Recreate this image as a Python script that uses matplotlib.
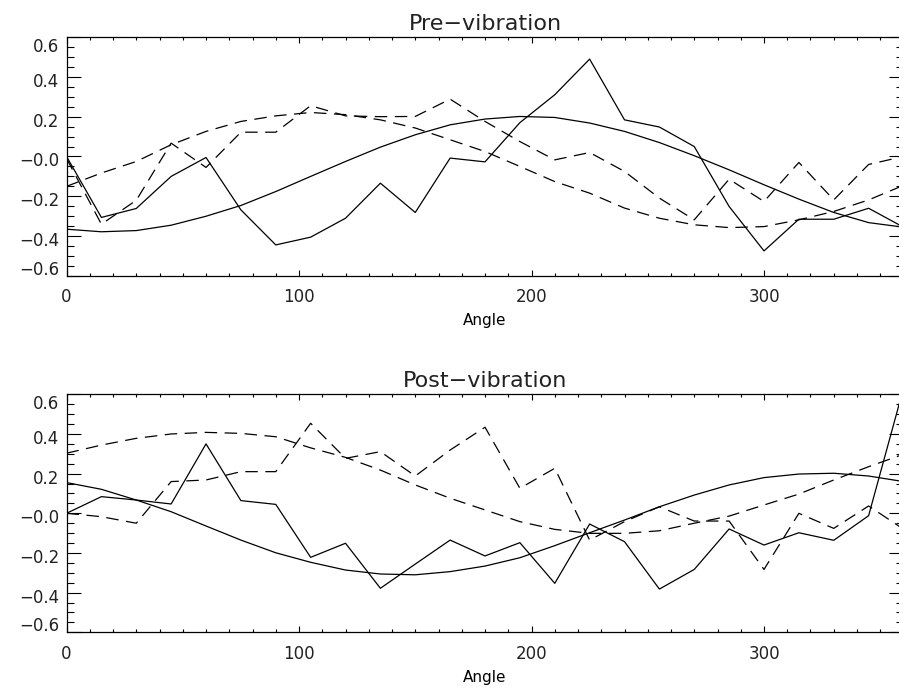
import matplotlib
matplotlib.use("Agg")
import matplotlib.pyplot as plt
from matplotlib.ticker import MultipleLocator
from matplotlib.transforms import ScaledTranslation

# angle steps (deg)
angle = [0, 15, 30, 45, 60, 75, 90, 105, 120, 135, 150, 165, 180,
         195, 210, 225, 240, 255, 270, 285, 300, 315, 330, 345, 360]

# Pre-vibration
pre_solid = [0.0, -0.306, -0.261, -0.10, -0.005, -0.268, -0.444, -0.405, -0.31,
             -0.134, -0.281, -0.008, -0.027, 0.17, 0.31, 0.489, 0.184, 0.148,
             0.05, -0.251, -0.474, -0.315, -0.315, -0.26, -0.355]
pre_solid_fit = [-0.365, -0.378, -0.372, -0.345, -0.30, -0.246, -0.176, -0.10,
                 -0.025, 0.047, 0.109, 0.159, 0.188, 0.201, 0.196, 0.168, 0.126,
                 0.07, 0.004, -0.067, -0.142, -0.214, -0.281, -0.332, -0.355]
pre_dash = [-0.01, -0.34, -0.22, 0.067, -0.055, 0.122, 0.122, 0.255, 0.204, 0.2,
            0.201, 0.288, 0.176, 0.075, -0.017, 0.02, -0.075, -0.209, -0.318,
            -0.114, -0.226, -0.03, -0.218, -0.04, 0.0]
pre_dash_fit = [-0.15, -0.083, -0.025, 0.059, 0.126, 0.176, 0.204, 0.221, 0.21,
                0.184, 0.143, 0.084, 0.025, -0.05, -0.126, -0.184, -0.259, -0.31,
                -0.343, -0.357, -0.352, -0.318, -0.276, -0.218, -0.145]

# Post-vibration
post_solid = [0.0, 0.084, 0.067, 0.047, 0.35, 0.064, 0.045, -0.222, -0.151, -0.378,
              -0.256, -0.135, -0.215, -0.148, -0.353, -0.054, -0.143, -0.382,
              -0.283, -0.079, -0.16, -0.098, -0.136, -0.012, 0.63]
post_solid_fit = [0.155, 0.121, 0.067, 0.008, -0.064, -0.135, -0.199, -0.247,
                  -0.286, -0.306, -0.31, -0.294, -0.266, -0.224, -0.163, -0.098,
                  -0.034, 0.033, 0.092, 0.143, 0.18, 0.198, 0.202, 0.188, 0.16]
post_dash = [0.0, -0.017, -0.05, 0.16, 0.168, 0.21, 0.21, 0.454, 0.277, 0.311,
             0.188, 0.319, 0.434, 0.126, 0.227, -0.135, -0.042, 0.033, -0.039,
             -0.039, -0.283, 0.0, -0.076, 0.037, -0.08]
post_dash_fit = [0.303, 0.344, 0.378, 0.4, 0.408, 0.403, 0.386, 0.33, 0.282, 0.218,
                 0.143, 0.076, 0.017, -0.042, -0.081, -0.101, -0.101, -0.088,
                 -0.05, -0.014, 0.042, 0.097, 0.168, 0.235, 0.298]

xticks = [0, 100, 200, 300]
xticklabels = ["0", "100", "200", "300"]
yticks = [-0.6, -0.4, -0.2, 0.0, 0.2, 0.4, 0.6]
yticklabels = ["\u22120.6", "\u22120.4", "\u22120.2", "\u22120.0", "0.2", "0.4", "0.6"]

plt.rcParams["font.family"] = ["DejaVu Sans"]
plt.rcParams["text.color"] = "#222222"

fig = plt.figure(figsize=(8.99, 6.98), dpi=100)


def panel(rect, title, solid, solid_fit, dash, dash_fit):
    ax = fig.add_axes(rect)
    ax.plot(angle, solid, color="black", lw=0.9)
    ax.plot(angle, solid_fit, color="black", lw=0.9)
    ax.plot(angle, dash, color="black", lw=0.9, dashes=(10, 6))
    ax.plot(angle, dash_fit, color="black", lw=0.9, dashes=(10, 6))
    ax.set_xlim(0, 360)
    ax.set_ylim(-0.6, 0.6)
    ax.set_xticks(xticks)
    ax.set_xticklabels(xticklabels)
    ax.xaxis.set_minor_locator(MultipleLocator(10))
    ax.set_yticks(yticks)
    ax.set_yticklabels(yticklabels)
    ax.yaxis.set_minor_locator(MultipleLocator(0.05))
    ax.tick_params(which="both", direction="in", top=True, right=True, width=0.8,
                   labelcolor="#222222")
    ax.tick_params(axis="x", which="major", length=4.3, pad=9, labelsize=12)
    ax.tick_params(axis="x", which="minor", length=2.2)
    ax.tick_params(axis="y", which="major", length=10, pad=5, labelsize=12)
    ax.tick_params(axis="y", which="minor", length=5)
    for s in ax.spines.values():
        s.set_linewidth(0.9)
    # IDL nudges the y labels down a little, end labels pulled inwards
    labs = ax.get_yticklabels()
    for i, lab in enumerate(labs):
        dy = -0.03
        if i == 0:
            dy = 0.08
        elif i == len(labs) - 1:
            dy = -0.08
        lab.set_transform(lab.get_transform() + ScaledTranslation(0, dy, fig.dpi_scale_trans))
    ax.set_xlabel("Angle", fontsize=11, labelpad=5)
    ax.set_title(title, fontsize=16, pad=5)
    return ax


panel([0.074, 0.6046, 0.931, 0.3424], "Pre\u2212vibration",
      pre_solid, pre_solid_fit, pre_dash, pre_dash_fit)
panel([0.074, 0.0941, 0.931, 0.341], "Post\u2212vibration",
      post_solid, post_solid_fit, post_dash, post_dash_fit)

fig.savefig("out.png", dpi=100)
